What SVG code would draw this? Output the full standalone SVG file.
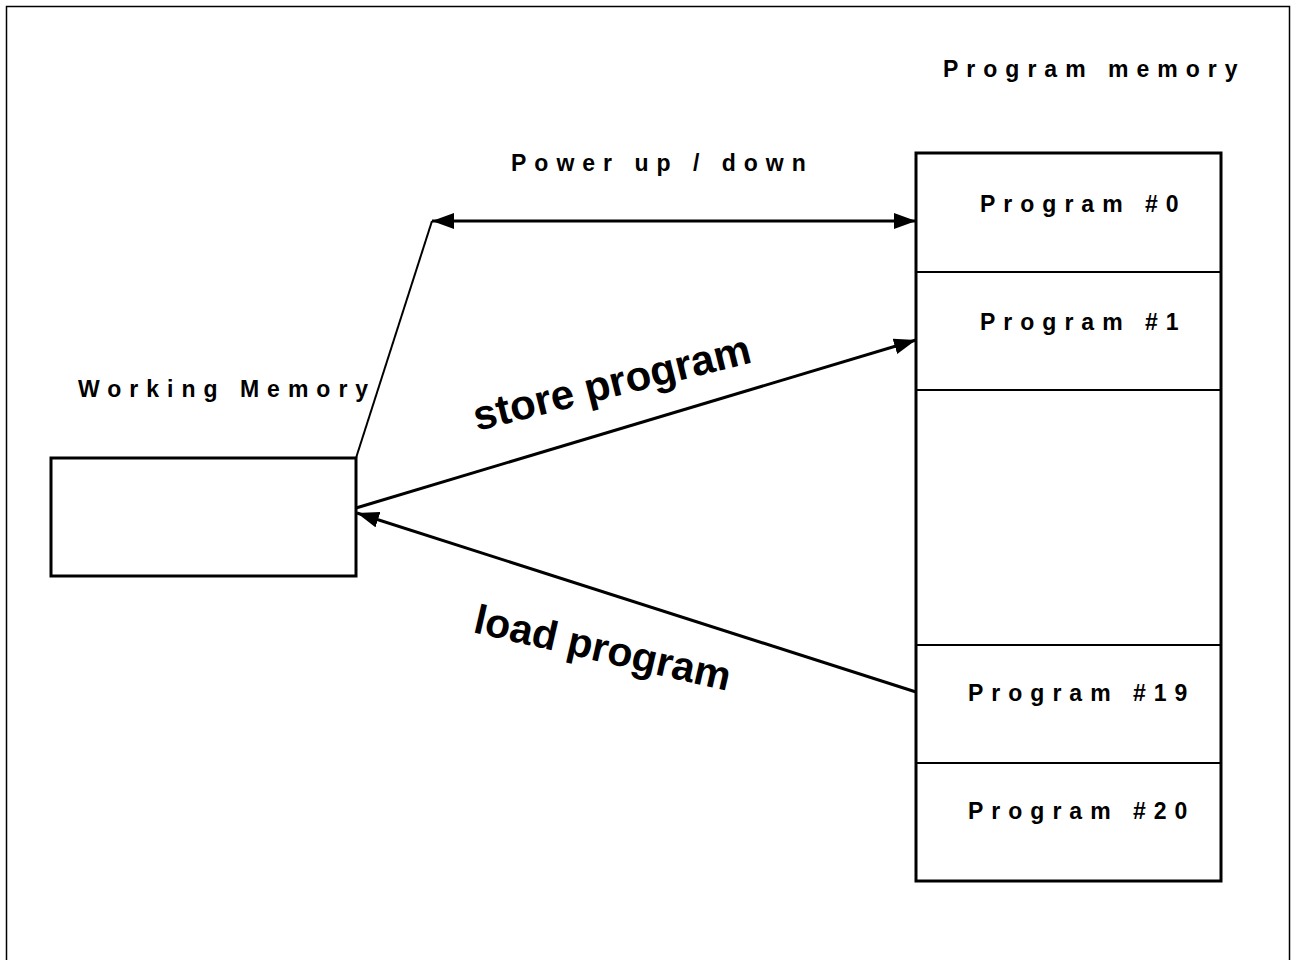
<svg xmlns="http://www.w3.org/2000/svg" width="1292" height="960" viewBox="0 0 1292 960">
<style>
.box{fill:#fff;stroke:#000;stroke-width:3}
.div{stroke:#000;stroke-width:2}
.lbl{font-family:"Liberation Sans",Arial,sans-serif;font-weight:bold;font-size:23px;letter-spacing:8px;fill:#000}
.big{font-family:"Liberation Sans",Arial,sans-serif;font-weight:bold;font-size:42px;fill:#000}
.con{stroke:#000;stroke-width:3;fill:none}
</style>
<defs>
<marker id="ah" viewBox="0 0 22 16" refX="22" refY="8" markerWidth="22" markerHeight="16" markerUnits="userSpaceOnUse" orient="auto-start-reverse">
<path d="M0,0 L22,8 L0,16 Z" fill="#000"/>
</marker>
</defs>
<rect width="1292" height="960" fill="#fff"/>
<rect x="6.5" y="6.5" width="1283" height="1000" fill="none" stroke="#000" stroke-width="1.5"/>
<g id="program-memory">
<rect class="box" x="916" y="153" width="305" height="728"/>
<line class="div" x1="916" y1="272" x2="1221" y2="272"/>
<line class="div" x1="916" y1="390" x2="1221" y2="390"/>
<line class="div" x1="916" y1="645" x2="1221" y2="645"/>
<line class="div" x1="916" y1="763" x2="1221" y2="763"/>
<text class="lbl" x="943" y="77">Program memory</text>
<text class="lbl" x="980" y="212">Program #0</text>
<text class="lbl" x="980" y="330">Program #1</text>
<text class="lbl" x="968" y="701">Program #19</text>
<text class="lbl" x="968" y="819">Program #20</text>
</g>
<g id="working-memory">
<rect class="box" x="51" y="458" width="305" height="118"/>
<text class="lbl" x="78" y="397">Working Memory</text>
</g>
<g id="connectors">
<polyline points="356,458 432,221" fill="none" stroke="#000" stroke-width="2"/>
<line class="con" x1="432" y1="221" x2="916" y2="221" marker-start="url(#ah)" marker-end="url(#ah)"/>
<line class="con" x1="356" y1="508" x2="916" y2="340" marker-end="url(#ah)"/>
<line class="con" x1="916" y1="692" x2="357" y2="513" marker-end="url(#ah)"/>
</g>
<g id="labels">
<text class="lbl" x="511" y="171">Power up / down</text>
<text class="big" transform="translate(477,431) rotate(-14)">store program</text>
<text class="big" style="font-size:41px" transform="translate(472,632) rotate(13)">load program</text>
</g>
</svg>
